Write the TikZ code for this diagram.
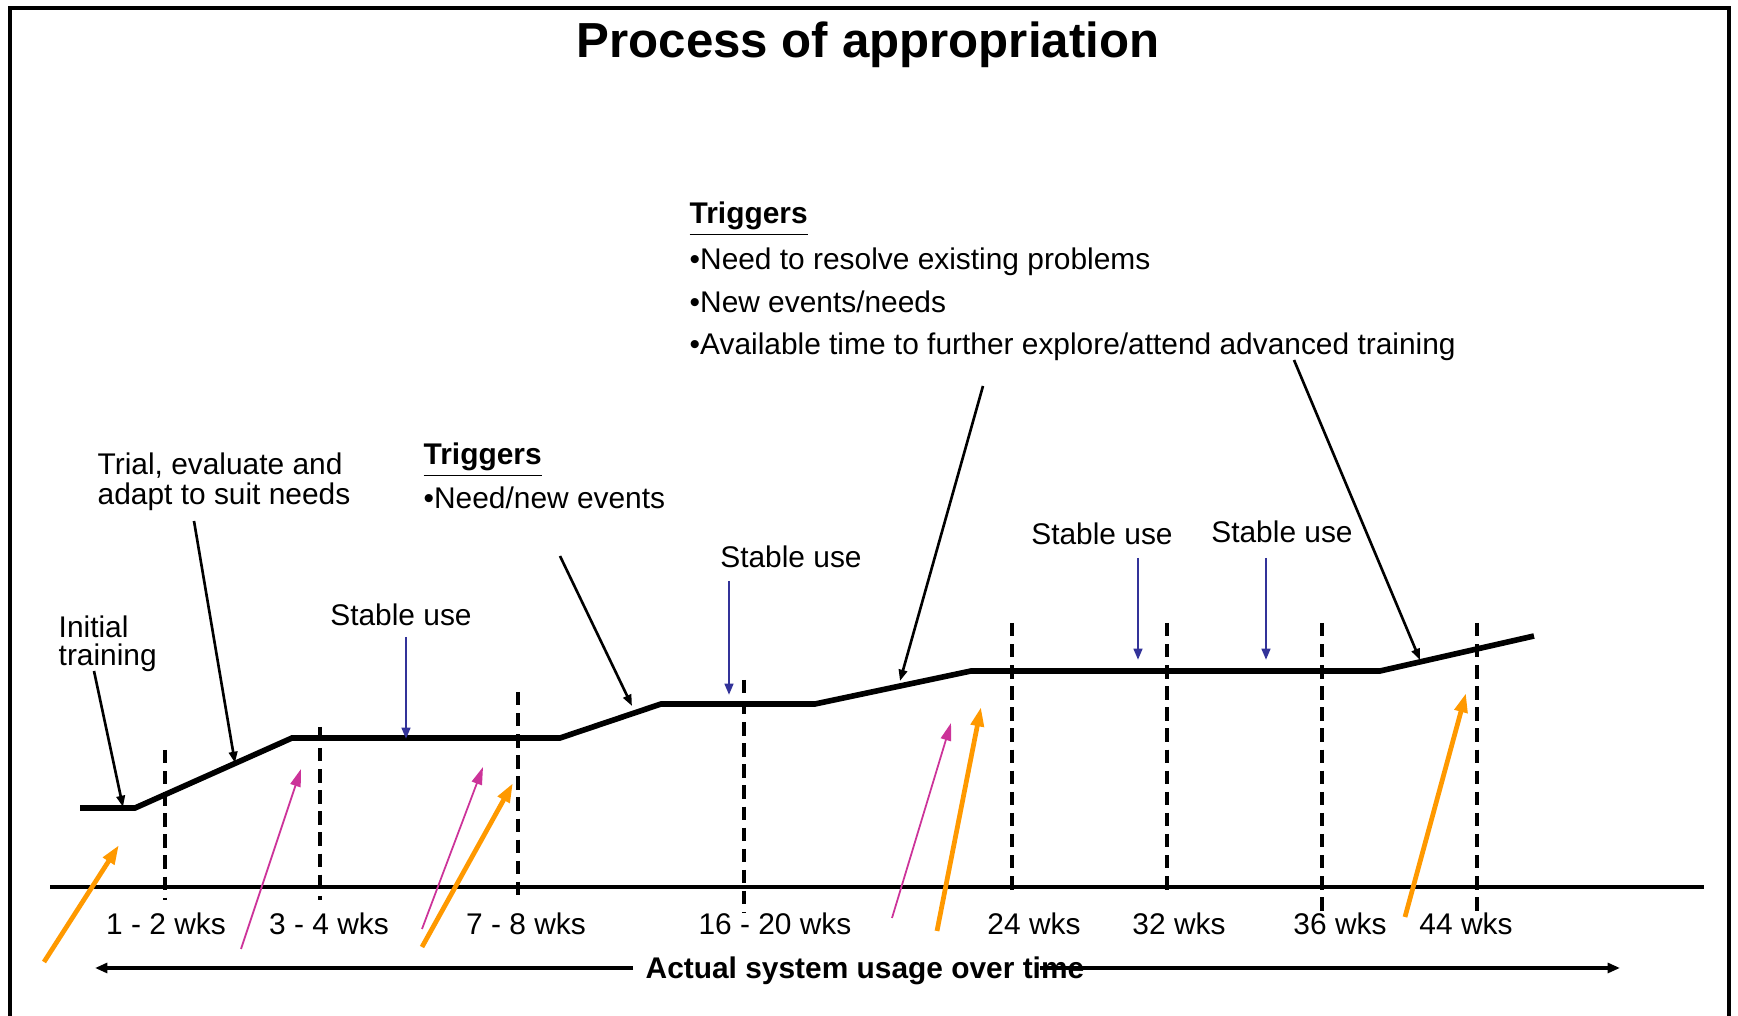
\documentclass[tikz,border=0pt]{standalone}
\usepackage{xcolor}
\usepackage{fontspec}
\setmainfont{Liberation Sans}
\usepackage{tikz}
\usetikzlibrary{arrows.meta, positioning}

\definecolor{trainorange}{RGB}{255,153,0}
\definecolor{needmagenta}{RGB}{204,51,153}
\definecolor{stableblue}{RGB}{51,51,153}

\begin{document}
\begin{tikzpicture}[x=0.01cm, y=-0.01cm]
	\tikzstyle{lbl}=[inner sep=0pt, font=\fontsize{8.5}{8}\selectfont, text=black]
	\tikzstyle{usage}=[line width=1.6pt, black]
	\tikzstyle{tick}=[line width=0.9pt, dash pattern=on 3.8pt off 2.2pt]
	\tikzstyle{note}=[-{Triangle[length=3.2pt,width=2.4pt]}, line width=0.75pt, black]
	\tikzstyle{stable}=[-{Triangle[length=3.2pt,width=2.4pt]}, line width=0.75pt, stableblue]
	\tikzstyle{train}=[-{Triangle[length=5.5pt,width=3.6pt]}, line width=1.35pt, trainorange]
	\tikzstyle{need}=[-{Triangle[length=5pt,width=3pt]}, line width=0.5pt, needmagenta]
	
	\useasboundingbox (0,0) rectangle (1738,1016);
	
	%% frame
	\draw [line width=1pt] (10,1016) -- (10,8) -- (1729,8) -- (1729,1016);
	
	\node (title) at (868,45) [inner sep=0pt, font=\fontsize{14}{16}\selectfont\bfseries] {Process of appropriation};
	
	%% time axis
	\draw [line width=1pt] (50,887) -- (1704,887);
	
	\draw [tick] (165,750) -- (165,900);
	\draw [tick] (320,727) -- (320,900);
	\draw [tick] (518,692) -- (518,900);
	\draw [tick] (744,680) -- (744,913);
	\draw [tick] (1012,623) -- (1012,892);
	\draw [tick] (1167,623) -- (1167,892);
	\draw [tick] (1322,623) -- (1322,913);
	\draw [tick] (1477,623) -- (1477,913);
	
	\node (w1) at (166,924) [lbl] {1 - 2 wks};
	\node (w2) at (329,924) [lbl] {3 - 4 wks};
	\node (w3) at (526,924) [lbl] {7 - 8 wks};
	\node (w4) at (775,924) [lbl] {16 - 20 wks};
	\node (w5) at (1034,924) [lbl] {24 wks};
	\node (w6) at (1179,924) [lbl] {32 wks};
	\node (w7) at (1340,924) [lbl] {36 wks};
	\node (w8) at (1466,924) [lbl] {44 wks};
	
	\node (time) at (865,971) [lbl, font=\fontsize{8.5}{8}\selectfont\bfseries] {Actual system usage over time};
	\coordinate (tl) at (95,968);
	\coordinate (tr) at (1620,968);
	\draw [-{Triangle[length=3.5pt,width=2.8pt]}, line width=0.9pt] (time.west) ++(-12,-3) -- (tl);
	\draw [-{Triangle[length=3.5pt,width=2.8pt]}, line width=0.9pt] (time.east) ++(-45,-3) -- (tr);
	
	%% usage curve
	\coordinate (u0) at (80,808);
	\coordinate (u1) at (135,808);
	\coordinate (u2) at (292,738);
	\coordinate (u3) at (560,738);
	\coordinate (u4) at (661,704);
	\coordinate (u5) at (815,704);
	\coordinate (u6) at (971,671);
	\coordinate (u7) at (1380,671);
	\coordinate (u8) at (1534,636);
	\draw [usage] (u0) -- (u1) -- (u2) -- (u3) -- (u4) -- (u5) -- (u6) -- (u7) -- (u8);
	
	%% annotations
	\node (init) at (58,644) [lbl, anchor=west, align=left] {Initial\\training};
	\node (trial) at (97,482) [lbl, anchor=west, align=left, font=\fontsize{8.5}{8.6}\selectfont] {Trial, evaluate and\\adapt to suit needs};
	\node (trig1) at (423,460) [lbl, anchor=west] {\underline{\textbf{Triggers}}};
	\node (trig1a) at (423,498) [lbl, anchor=west] {•Need/new events};
	\node (trig2) at (689,219) [lbl, anchor=west] {\underline{\textbf{Triggers}}};
	\node (trig2a) at (689,262) [lbl, anchor=west] {•Need to resolve existing problems};
	\node (trig2b) at (689,302) [lbl, anchor=west] {•New events/needs};
	\node (trig2c) at (689,347) [lbl, anchor=west] {•Available time to further explore/attend advanced training};
	
	\coordinate (a1s) at (94,671);   \coordinate (a1e) at (123,807);
	\coordinate (a2s) at (194,521);  \coordinate (a2e) at (235,763);
	\coordinate (a3s) at (560,556);  \coordinate (a3e) at (632,706);
	\coordinate (a4s) at (983,386);  \coordinate (a4e) at (900,681);
	\coordinate (a5s) at (1294,360); \coordinate (a5e) at (1420,660);
	\draw [note] (a1s) -- (a1e);
	\draw [note] (a2s) -- (a2e);
	\draw [note] (a3s) -- (a3e);
	\draw [note] (a4s) -- (a4e);
	\draw [note] (a5s) -- (a5e);
	
	%% stable use
	\node (st1) at (401,615) [lbl] {Stable use};
	\node (st2) at (791,557) [lbl] {Stable use};
	\node (st3) at (1102,534) [lbl] {Stable use};
	\node (st4) at (1282,532) [lbl] {Stable use};
	\coordinate (s1) at (406,739);
	\coordinate (s2) at (729,695);
	\coordinate (s3) at (1138,660);
	\coordinate (s4) at (1266,660);
	\draw [stable] (406,637) -- (s1);
	\draw [stable] (729,581) -- (s2);
	\draw [stable] (1138,558) -- (s3);
	\draw [stable] (1266,558) -- (s4);
	
	%% training / need arrows
	\coordinate (o1s) at (44,962);   \coordinate (o1e) at (119,845);
	\coordinate (o2s) at (422,947);  \coordinate (o2e) at (513,783);
	\coordinate (o3s) at (937,931);  \coordinate (o3e) at (981,707);
	\coordinate (o4s) at (1405,917); \coordinate (o4e) at (1466,693);
	\draw [train] (o1s) -- (o1e);
	\draw [train] (o2s) -- (o2e);
	\draw [train] (o3s) -- (o3e);
	\draw [train] (o4s) -- (o4e);
	
	\coordinate (m1s) at (241,949);  \coordinate (m1e) at (301,769);
	\coordinate (m2s) at (422,929);  \coordinate (m2e) at (483,767);
	\coordinate (m3s) at (892,918);  \coordinate (m3e) at (951,723);
	\draw [need] (m1s) -- (m1e);
	\draw [need] (m2s) -- (m2e);
	\draw [need] (m3s) -- (m3e);
\end{tikzpicture}
\end{document}
